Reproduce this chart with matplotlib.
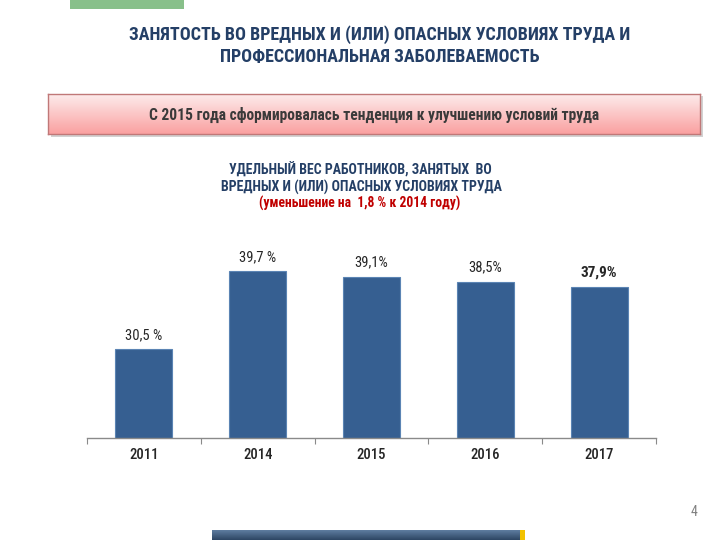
import numpy as np
import matplotlib
matplotlib.use("Agg")
import matplotlib.pyplot as plt
from matplotlib.patches import Rectangle
from matplotlib import font_manager as fm

available = {f.name for f in fm.fontManager.ttflist}
candidates = ['Liberation Sans Narrow', 'Arial Narrow', 'Roboto Condensed', 'IBM Plex Sans Condensed']
chosen = [c for c in candidates if c in available]
plt.rcParams['font.family'] = chosen[:1] + ['Liberation Sans', 'DejaVu Sans']

years = ["2011", "2014", "2015", "2016", "2017"]
values = [30.5, 39.7, 39.1, 38.5, 37.9]
value_labels = ["30,5 %", "39,7 %", "39,1%", "38,5%", "37,9%"]
label_bold = [False, False, False, False, True]

title = "ЗАНЯТОСТЬ ВО ВРЕДНЫХ И (ИЛИ) ОПАСНЫХ УСЛОВИЯХ ТРУДА И\nПРОФЕССИОНАЛЬНАЯ ЗАБОЛЕВАЕМОСТЬ"
banner = "С 2015 года сформировалась тенденция к улучшению условий труда"
sub1 = "УДЕЛЬНЫЙ ВЕС РАБОТНИКОВ, ЗАНЯТЫХ  ВО"
sub2 = "ВРЕДНЫХ И (ИЛИ) ОПАСНЫХ УСЛОВИЯХ ТРУДА"
sub3 = "(уменьшение на  1,8 % к 2014 году)"
page = "4"

W, H = 720, 540
fig = plt.figure(figsize=(7.2, 5.4), dpi=100)
fig.patch.set_facecolor("white")

def fx(x): return x / W
def fy(y): return 1 - y / H

def px_axes(x0, y0, x1, y1, **kw):
    return fig.add_axes([fx(x0), fy(y1), (x1 - x0) / W, (y1 - y0) / H], **kw)

# green tab at top
fig.patches.append(Rectangle((fx(70), fy(9)), 114 / W, 9 / H, transform=fig.transFigure,
                             facecolor="#88c08a", edgecolor="none"))

# title
fig.text(fx(380), fy(46), title, ha="center", va="center", fontsize=13, fontweight="bold",
         color="#243f66", linespacing=1.3)

# banner shadow
fig.patches.append(Rectangle((fx(51), fy(137)), 652 / W, 41 / H, transform=fig.transFigure,
                             facecolor="#d2d2d2", edgecolor="none", zorder=-5))
bax = px_axes(48, 94, 700, 134)
grad = np.linspace(0, 1, 100).reshape(-1, 1)
top = np.array([253, 236, 236]) / 255
bot = np.array([250, 160, 160]) / 255
img = top[None, None, :] * (1 - grad[:, :, None]) + bot[None, None, :] * grad[:, :, None]
bax.imshow(img, aspect="auto", extent=[0, 1, 0, 1], origin="upper")
bax.set_xticks([]); bax.set_yticks([])
for s in bax.spines.values():
    s.set_color("#c07878"); s.set_linewidth(1)
fig.text(fx(374), fy(115), banner, ha="center", va="center", fontsize=11.2, fontweight="bold",
         color="#3a3a3a")

# subtitles
fig.text(fx(360), fy(170), sub1, ha="center", va="center", fontsize=10, fontweight="bold", color="#243f66")
fig.text(fx(361), fy(187), sub2, ha="center", va="center", fontsize=10, fontweight="bold", color="#243f66")
fig.text(fx(360), fy(203), sub3, ha="center", va="center", fontsize=9.8, fontweight="bold", color="#c00000")

# bar chart
ax = px_axes(87, 230, 656, 438)
x = np.arange(len(years))
ax.bar(x, values, width=0.5, color="#365f91", edgecolor="#5b84b4", linewidth=0.8, zorder=2)
ax.set_xlim(-0.5, len(years) - 0.5)
ax.set_ylim(20, 44.6)
ax.set_yticks([])
for s in ["top", "right", "left"]:
    ax.spines[s].set_visible(False)
ax.spines["bottom"].set_color("#8a8a8a")
ax.spines["bottom"].set_linewidth(1)
ax.set_xticks(np.arange(-0.5, len(years), 1.0), minor=False)
ax.set_xticklabels([])
ax.tick_params(axis="x", which="major", length=4, color="#8a8a8a", direction="out")
ax.set_xticks(x, minor=True)
ax.set_xticklabels(years, minor=True, fontsize=10.5, fontweight=500, color="#262626")
ax.tick_params(axis="x", which="minor", length=0, pad=7)
for xi, v, lab, b in zip(x, values, value_labels, label_bold):
    ax.annotate(lab, xy=(xi, v), xytext=(0, 10), textcoords="offset points", ha="center",
                va="center", fontsize=11 if b else 10.5, fontweight="bold" if b else "normal",
                color="#262626")

# page number
fig.text(fx(694), fy(512), page, ha="center", va="center", fontsize=10, color="#808080")

# bottom bar
bb = px_axes(212, 530, 520, 540)
g2 = np.linspace(0, 1, 50).reshape(-1, 1)
c1 = np.array([95, 125, 160]) / 255
c2 = np.array([45, 70, 100]) / 255
img2 = c1[None, None, :] * (1 - g2[:, :, None]) + c2[None, None, :] * g2[:, :, None]
bb.imshow(img2, aspect="auto", extent=[0, 1, 0, 1], origin="upper")
bb.set_xticks([]); bb.set_yticks([])
for s in bb.spines.values():
    s.set_visible(False)
fig.patches.append(Rectangle((fx(520), 0), 5 / W, 10 / H, transform=fig.transFigure,
                             facecolor="#f2c200", edgecolor="none"))

fig.savefig("out.png", dpi=100)
